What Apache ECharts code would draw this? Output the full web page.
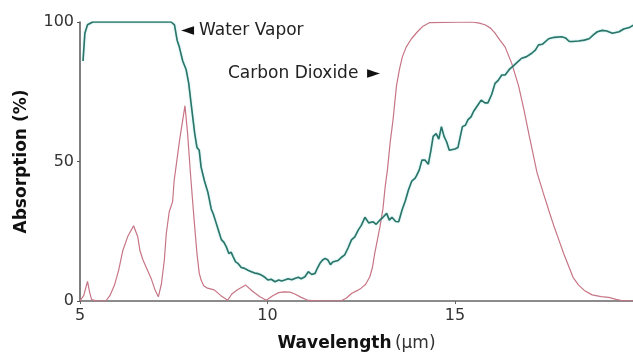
<!DOCTYPE html>
<html>
<head>
<meta charset="utf-8">
<script src="https://cdn.jsdelivr.net/npm/echarts@6/dist/echarts.min.js"></script>
<style>
	html, body { margin: 0; padding: 0; background: #fff; }
	#chart { width: 633px; height: 354px; }
</style>
</head>
<body>
<div id="chart"></div>
<script>
	//水汽吸收曲线 (wavelength, absorption %)
	var vaporX = [5.08, 5.13, 5.2, 5.34, 7.43, 7.52, 7.59, 7.65, 7.74, 7.83, 7.9, 7.97, 8.06, 8.12, 8.18, 8.23, 8.32, 8.41, 8.5, 8.56, 8.63, 8.7, 8.77, 8.84, 8.9, 8.97, 9.03, 9.08, 9.15, 9.21, 9.3, 9.39, 9.48, 9.57, 9.66, 9.75, 9.84, 9.93, 10.02, 10.1, 10.2, 10.3, 10.38, 10.46, 10.55, 10.65, 10.73, 10.82, 10.9, 11.0, 11.09, 11.18, 11.27, 11.34, 11.4, 11.47, 11.54, 11.61, 11.68, 11.74, 11.79, 11.88, 11.96, 12.06, 12.15, 12.24, 12.33, 12.42, 12.5, 12.6, 12.7, 12.82, 12.9, 13.0, 13.08, 13.18, 13.25, 13.32, 13.42, 13.5, 13.59, 13.68, 13.76, 13.85, 13.94, 13.98, 14.05, 14.12, 14.2, 14.29, 14.36, 14.42, 14.5, 14.57, 14.64, 14.71, 14.78, 14.85, 14.9, 15.0, 15.08, 15.16, 15.2, 15.28, 15.35, 15.43, 15.5, 15.6, 15.7, 15.8, 15.88, 15.98, 16.07, 16.15, 16.25, 16.34, 16.45, 16.56, 16.66, 16.78, 16.9, 17.05, 17.15, 17.23, 17.33, 17.5, 17.65, 17.85, 17.95, 18.05, 18.14, 18.3, 18.45, 18.58, 18.7, 18.8, 18.93, 19.05, 19.2, 19.38, 19.5, 19.65, 19.78];
	var vaporY = [86, 96, 99, 100, 100, 99, 93.5, 91, 86, 83, 78, 70, 60, 55, 54, 48, 43, 39, 33, 31, 28, 25, 22, 21, 19.5, 17, 17.5, 16, 14, 13.5, 12, 11.7, 11, 10.5, 10, 9.8, 9.3, 8.5, 7.5, 7.8, 6.9, 7.5, 7.2, 7.5, 8, 7.6, 8.1, 8.5, 8, 8.7, 10.5, 9.5, 9.9, 12, 13.5, 14.7, 15.3, 14.7, 13, 14, 14, 14.5, 15.5, 16.5, 19, 21.9, 23, 25.4, 27, 30, 28, 28.4, 27.5, 29, 30, 31.4, 29, 30, 28.5, 28.4, 32.6, 36, 39.8, 43, 44, 45, 47, 50.5, 50.5, 49, 54, 59, 60, 58, 62.5, 59, 57, 54, 54, 54.5, 55, 60, 62.5, 63, 65, 66, 68, 70, 72, 71, 71, 74, 78, 79, 81, 81, 83, 84.3, 85.5, 87, 87.5, 88.8, 90, 91.8, 92, 94, 94.5, 94.7, 94.3, 93, 93, 93.2, 93.5, 94, 95.5, 96.5, 97, 96.8, 96, 96.5, 97.5, 98, 99];

	//二氧化碳吸收曲线
	var co2X = [5.0, 5.1, 5.2, 5.26, 5.31, 5.45, 5.69, 5.8, 5.92, 6.03, 6.14, 6.27, 6.43, 6.54, 6.6, 6.68, 6.8, 6.9, 7.0, 7.09, 7.17, 7.25, 7.3, 7.38, 7.47, 7.51, 7.66, 7.8, 7.87, 7.95, 8.05, 8.12, 8.18, 8.23, 8.3, 8.4, 8.58, 8.75, 8.94, 9.05, 9.2, 9.42, 9.6, 9.8, 9.97, 10.15, 10.3, 10.44, 10.6, 10.73, 10.9, 11.09, 11.5, 11.95, 12.1, 12.24, 12.4, 12.5, 12.62, 12.73, 12.8, 12.86, 13.0, 13.08, 13.14, 13.2, 13.27, 13.35, 13.44, 13.52, 13.6, 13.7, 13.84, 14.0, 14.15, 14.33, 15.45, 15.65, 15.8, 15.95, 16.07, 16.2, 16.34, 16.52, 16.7, 16.85, 16.97, 17.08, 17.19, 17.35, 17.5, 17.65, 17.77, 17.9, 18.04, 18.15, 18.3, 18.45, 18.66, 18.9, 19.1, 19.3, 19.47, 19.75];
	var co2Y = [0, 2, 7, 3, 0.5, 0, 0, 2, 5.7, 11, 18, 23, 27, 23, 18, 14.7, 11, 8, 4, 1.5, 6, 14.7, 24, 32, 35.6, 43, 58, 70, 60, 45, 28, 17, 10, 7.5, 5.5, 4.6, 4, 2, 0.3, 2.5, 4, 5.7, 3.5, 1.5, 0.3, 2, 3, 3.3, 3.2, 2.5, 1.3, 0.2, 0, 0, 1, 2.7, 3.8, 4.6, 6, 8.7, 12, 17, 26.6, 33, 41, 47, 56.5, 65, 77, 83, 87.6, 91, 94, 96.5, 98.5, 99.8, 100, 99.6, 99, 97.8, 96, 93.5, 91, 85, 77, 68, 60, 53, 46, 39, 32.6, 26.5, 22, 17, 12.3, 8.5, 5.7, 3.8, 2.2, 1.6, 1.3, 0.6, 0.1, 0];

	var yTicks = [0, 50, 100];

	//把x、y数组合成点对
	function pairs(xs, ys) {
		var out = [];
		for(var i = 0; i < xs.length; i++) {
			out.push([xs[i], ys[i]]);
		}
		return out;
	}

	var font = 'DejaVu Sans';
	var textColor = '#333';
	var noteFont = '17px "DejaVu Sans"';
	var arrowFont = '17px "DejaVu Sans"';

	var option = {
		animation: false,
		grid: {
			left: 80,
			right: 0,
			top: 22,
			bottom: 53,
			outerBoundsMode: 'none'
		},
		xAxis: {
			type: 'value',
			min: 5,
			max: 19.75,
			interval: 5,
			name: '{b|Wavelength} {n|(μm)}',
			nameLocation: 'middle',
			nameGap: 34,
			nameTextStyle: {
				rich: {
					b: { fontFamily: font, fontSize: 17, fontWeight: 'bold', color: '#111' },
					n: { fontFamily: font, fontSize: 17, color: '#333' }
				}
			},
			splitLine: { show: false },
			axisLine: { lineStyle: { color: '#666', width: 1.5 } },
			axisTick: { show: true, length: 3, lineStyle: { color: '#666' } },
			axisLabel: {
				fontFamily: font,
				fontSize: 16,
				color: textColor,
				margin: 7,
				showMaxLabel: false
			}
		},
		yAxis: {
			type: 'value',
			min: yTicks[0],
			max: yTicks[yTicks.length - 1],
			interval: 50,
			name: 'Absorption (%)',
			nameLocation: 'middle',
			nameGap: 50,
			nameTextStyle: {
				fontFamily: font,
				fontSize: 17,
				fontWeight: 'bold',
				color: '#111'
			},
			splitLine: { show: false },
			axisLine: { show: true, lineStyle: { color: '#555', width: 1.5 } },
			axisTick: { show: true, length: 3, lineStyle: { color: '#555' } },
			axisLabel: {
				fontFamily: font,
				fontSize: 16,
				color: textColor,
				margin: 6
			}
		},
		series: [{
				name: 'Carbon Dioxide',
				type: 'line',
				data: pairs(co2X, co2Y),
				showSymbol: false,
				lineStyle: { color: '#c77585', width: 1.2 },
				z: 2
			},
			{
				name: 'Water Vapor',
				type: 'line',
				data: pairs(vaporX, vaporY),
				showSymbol: false,
				lineStyle: {
					color: '#2a7468',
					width: 1.6,
					shadowColor: 'rgba(80,200,200,0.5)',
					shadowBlur: 2
				},
				z: 3
			}
		],
		//图中的两个标注
		graphic: [{
				type: 'text',
				left: 181,
				top: 22,
				style: { text: '◄', font: arrowFont, fill: '#111' }
			},
			{
				type: 'text',
				left: 199,
				top: 22,
				style: { text: 'Water Vapor', font: noteFont, fill: '#222' }
			},
			{
				type: 'text',
				left: 228,
				top: 65,
				style: { text: 'Carbon Dioxide', font: noteFont, fill: '#222' }
			},
			{
				type: 'text',
				left: 367,
				top: 65,
				style: { text: '►', font: arrowFont, fill: '#111' }
			}
		]
	};

	var myChart = echarts.init(document.getElementById('chart'));
	myChart.setOption(option);
</script>
</body>
</html>
